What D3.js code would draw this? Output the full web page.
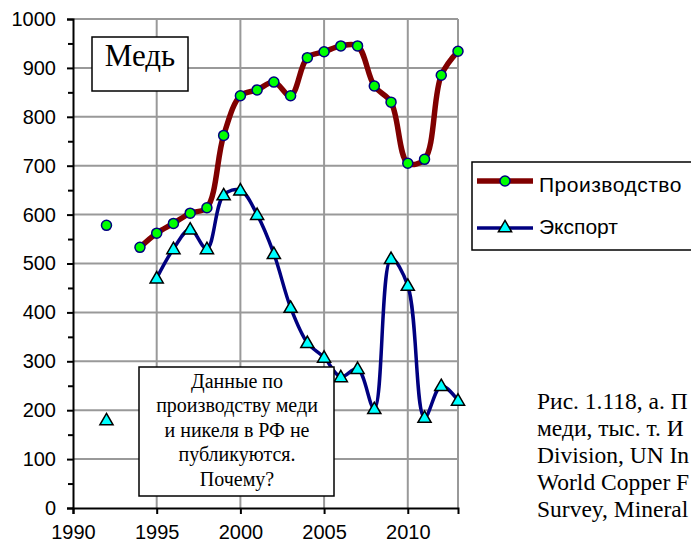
<!DOCTYPE html>
<html><head><meta charset="utf-8">
<script src="https://cdn.jsdelivr.net/npm/d3@7"></script>
<style>body{margin:0;background:#fff;}svg{display:block;}</style>
</head><body>
<script>
const prodYears = [1992, 1994,1995,1996,1997,1998,1999,2000,2001,2002,2003,2004,2005,2006,2007,2008,2009,2010,2011,2012,2013];
const prodValues = [578, 533,562,582,603,614,762,843,855,871,843,921,933,945,945,863,830,705,713,885,934];
const expYears = [1992, 1995,1996,1997,1998,1999,2000,2001,2002,2003,2004,2005,2006,2007,2008,2009,2010,2011,2012,2013];
const expValues = [180, 470,530,570,530,640,650,600,520,410,338,308,268,285,203,510,455,185,250,220];
const yTicks = [0,100,200,300,400,500,600,700,800,900,1000];
const xTicks = [1990,1995,2000,2005,2010];
const seriesNames = ["Производство","Экспорт"];
const noteLines = ["Данные по","производству меди","и никеля в РФ не","публикуются.","Почему?"];
const captionLines = ["Рис. 1.118, а. П","меди,  тыс. т. И","Division, UN In","World Copper F","Survey, Mineral"];

const W=691,H=545;
const svg=d3.select("body").append("svg").attr("width",W).attr("height",H);
const x=d3.scaleLinear().domain([1990,2013]).range([73,458]);
const y=d3.scaleLinear().domain([0,1000]).range([508,19]);
const sans="'Liberation Sans', Arial, sans-serif", serif="'Liberation Serif','Times New Roman',serif";

// grid
const g=svg.append("g");
g.selectAll(".hg").data(yTicks.filter(d=>d>0)).enter().append("line")
 .attr("x1",x(1990)).attr("x2",x(2013)).attr("y1",d=>y(d)).attr("y2",d=>y(d))
 .attr("stroke","#999").attr("stroke-width",2);
g.selectAll(".vg").data([1995,2000,2005,2010,2013]).enter().append("line")
 .attr("x1",d=>x(d)).attr("x2",d=>x(d)).attr("y1",y(1000)).attr("y2",y(0))
 .attr("stroke","#999").attr("stroke-width",2);

// axes
const yAxis=d3.axisLeft(y).tickValues(yTicks).tickSize(6).tickPadding(11).tickFormat(d3.format("d"));
const ya=svg.append("g").attr("transform",`translate(${x(1990)},0)`).call(yAxis);
ya.select(".domain").attr("stroke","#000").attr("stroke-width",2);
ya.selectAll(".tick line").attr("stroke","#000").attr("stroke-width",2);
ya.selectAll("text").attr("font-family",sans).attr("font-size",20).attr("fill","#000");
const yAxisMinor=d3.axisLeft(y).tickValues(d3.range(50,1000,100)).tickSize(5).tickFormat("");
const ym=svg.append("g").attr("transform",`translate(${x(1990)},0)`).call(yAxisMinor);
ym.select(".domain").remove();
ym.selectAll(".tick line").attr("stroke","#000").attr("stroke-width",2);

const xAxis=d3.axisBottom(x).tickValues(xTicks).tickSize(6).tickPadding(11).tickFormat(d3.format("d"));
const xa=svg.append("g").attr("transform",`translate(0,${y(0)})`).call(xAxis);
xa.select(".domain").attr("stroke","#000").attr("stroke-width",2);
xa.selectAll(".tick line").attr("stroke","#000").attr("stroke-width",2);
xa.selectAll("text").attr("font-family",sans).attr("font-size",20).attr("fill","#000");

const curve=d3.curveCatmullRom.alpha(0.5);
const prod=prodYears.map((yr,i)=>({yr,v:prodValues[i]}));
const exp=expYears.map((yr,i)=>({yr,v:expValues[i]}));
const line=d3.line().x(d=>x(d.yr)).y(d=>y(d.v)).curve(curve);

svg.append("path").datum(exp.filter(d=>d.yr>=1995)).attr("d",line)
 .attr("fill","none").attr("stroke","#000080").attr("stroke-width",3.5);
svg.append("path").datum(prod.filter(d=>d.yr>=1994)).attr("d",line)
 .attr("fill","none").attr("stroke","#800000").attr("stroke-width",5.5);

const tri=d3.symbol().type(d3.symbolTriangle).size(75);
svg.selectAll(".tri").data(exp).enter().append("path")
 .attr("d",tri).attr("transform",d=>`translate(${x(d.yr)},${y(d.v)+1})`)
 .attr("fill","#00ffff").attr("stroke","#000").attr("stroke-width",1.5);
svg.selectAll(".dot").data(prod).enter().append("circle")
 .attr("cx",d=>x(d.yr)).attr("cy",d=>y(d.v)).attr("r",5)
 .attr("fill","#00ff00").attr("stroke","#000080").attr("stroke-width",1.5);

// Медь box
svg.append("rect").attr("x",92).attr("y",37).attr("width",96).attr("height",54)
 .attr("fill","#fff").attr("stroke","#000").attr("stroke-width",1.5);
svg.append("text").attr("x",140).attr("y",66).attr("text-anchor","middle")
 .attr("font-family",serif).attr("font-size",31).text("Медь");

// note box
svg.append("rect").attr("x",139).attr("y",367).attr("width",195).attr("height",129)
 .attr("fill","#fff").attr("stroke","#000").attr("stroke-width",1.5);
svg.selectAll(".note").data(noteLines).enter().append("text")
 .attr("x",237).attr("y",(d,i)=>388+i*24.4).attr("text-anchor","middle")
 .attr("font-family",serif).attr("font-size",20).text(d=>d);

// legend
svg.append("rect").attr("x",472).attr("y",162).attr("width",240).attr("height",88)
 .attr("fill","#fff").attr("stroke","#000").attr("stroke-width",1.5);
const lg=[{n:seriesNames[0],yy:181,ls:0.5},{n:seriesNames[1],yy:228,ls:0}];
svg.append("line").attr("x1",477).attr("x2",533).attr("y1",lg[0].yy).attr("y2",lg[0].yy)
 .attr("stroke","#800000").attr("stroke-width",5.5);
svg.append("circle").attr("cx",505).attr("cy",lg[0].yy).attr("r",5)
 .attr("fill","#00ff00").attr("stroke","#000080").attr("stroke-width",1.5);
svg.append("line").attr("x1",477).attr("x2",533).attr("y1",lg[1].yy).attr("y2",lg[1].yy)
 .attr("stroke","#000080").attr("stroke-width",3.5);
svg.append("path").attr("d",tri).attr("transform",`translate(505,${lg[1].yy})`)
 .attr("fill","#00ffff").attr("stroke","#000").attr("stroke-width",1.5);
svg.selectAll(".lt").data(lg).enter().append("text")
 .attr("x",539).attr("y",(d,i)=>i===0?192:234).attr("letter-spacing",d=>d.ls)
 .attr("font-family",sans).attr("font-size",21).text(d=>d.n);

// caption
svg.selectAll(".cap").data(captionLines).enter().append("text")
 .attr("x",537).attr("y",(d,i)=>409+i*27).attr("font-family",serif).attr("font-size",23.5).text(d=>d);
</script>
</body></html>
